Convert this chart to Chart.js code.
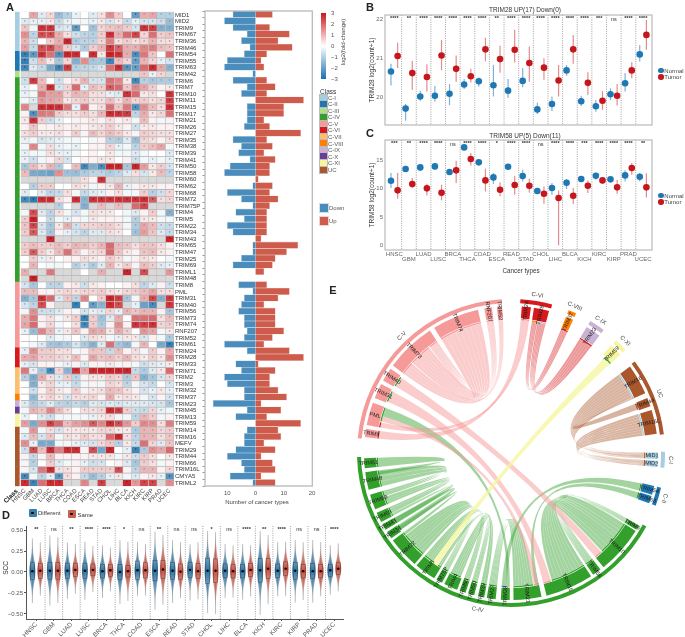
<!doctype html>
<html><head><meta charset="utf-8">
<style>
html,body{margin:0;background:#fff;overflow:hidden}
#page{position:relative;width:685px;height:637px;font-family:"Liberation Sans",Arial,sans-serif;overflow:hidden}
canvas{position:absolute}
.t{position:absolute;white-space:nowrap;transform:translate(-50%,-50%);color:#444;line-height:1}
.s{position:absolute}
</style>
<script src="https://cdn.jsdelivr.net/npm/chart.js@4"></script>
</head><body><div id="page"></div>
<script>
// ---------- data ----------
const cancerTypes = ['HNSC','GBM','LUAD','LUSC','BRCA','THCA','COAD','ESCA','READ','STAD','CHOL','LIHC','BLCA','KICH','KIRC','KIRP','PRAD','UCEC'];
const geneNames = ['MID1','MID2','TRIM9','TRIM67','TRIM36','TRIM46','TRIM54','TRIM55','TRIM63','TRIM42','TRIM6','TRIM7','TRIM10','TRIM11','TRIM15','TRIM17','TRIM21','TRIM26','TRIM27','TRIM35','TRIM38','TRIM39','TRIM41','TRIM50','TRIM58','TRIM60','TRIM62','TRIM68','TRIM72','TRIM75P','TRIM4','TRIM5','TRIM22','TRIM34','TRIM43','TRIM65','TRIM47','TRIM25','TRIM69','TRIML1','TRIM48','TRIM8','PML','TRIM31','TRIM40','TRIM56','TRIM73','TRIM74','RNF207','TRIM52','TRIM61','TRIM24','TRIM28','TRIM33','TRIM71','TRIM2','TRIM3','TRIM32','TRIM37','TRIM23','TRIM45','TRIM13','TRIM59','TRIM14','TRIM16','MEFV','TRIM29','TRIM44','TRIM66','TRIM16L','CMYA5','TRIML2'];
const classNames = ['C-I','C-II','C-III','C-IV','C-V','C-VI','C-VII','C-VIII','C-IX','C-X','C-XI','UC'];
const classColors = ['#a6cee3','#1f78b4','#b2df8a','#33a02c','#f59a99','#d7191c','#fdbf6f','#ff7f00','#cab2d6','#6a3d9a','#f6f69c','#a9572b'];
const classCounts = [6,3,1,31,10,3,4,1,1,1,2,9];
const n = null;
const foldChange = [
[0,1,-.3,.4,-1.2,-.8,-.2,0,-.3,.3,1.3,.5,0,-1.9,.9,1,-.8,-.8],
[-.3,-.2,-.2,.2,-.6,-.2,-.1,-.1,-.2,.2,-.4,.2,-.6,-.2,-.4,-.4,-.5,-1.2],
[.6,-.1,2.6,2.6,-.4,-.3,-2,0,-1.1,.4,.6,.7,.5,-.4,2.6,2.4,-1.5,-1.5],
[1.3,-.7,2.2,2.2,.9,.3,-.5,-.7,-.8,.5,2.6,.9,1.8,2.3,.4,1.7,.5,.6],
[.8,-.5,0,.5,.9,2.8,-.9,-.7,-.7,.4,1.5,.3,.5,.3,.4,.8,.3,.3],
[1.1,-.6,2.2,2.3,1.3,.5,-.4,-.9,.5,.8,2.5,1.9,.9,.9,1.4,1.5,.7,.6],
[-2.6,-2,2.6,1.7,-2.2,2.8,2.7,0,2.7,.2,2.8,2.6,.9,-2.3,1.6,.6,0,1.7],
[-2.6,-.5,.7,.2,-1,.4,-1.5,1.3,-1,-1,-2.5,.7,.4,-1.9,.8,.4,-.2,-.4],
[-2.4,-.3,-.6,-1.6,-2.5,2.5,-.8,-.7,-.6,-.4,1.7,2.7,-2.1,-1.9,1.8,2.7,1,-1.4],
[n,n,n,n,n,n,n,n,n,n,n,n,n,n,.6,-.2,.4,n],
[-.5,2.5,.7,0,-.5,.1,.3,.8,-.4,-.4,1.7,1.4,.2,-2.4,-.8,-1,-.9,-.9],
[-.2,0,.9,2.7,-.4,.4,1.8,-.2,.7,.5,2,1.8,.6,1.4,1,.5,.1,.2],
[-.2,-.1,1.6,1.1,1.1,.4,.8,.7,.3,.3,-.2,-.3,2.6,1.8,.2,.3,0,2.6],
[-.1,-.3,1.2,1,.9,.2,.4,.5,.3,.3,.7,.3,.8,.4,.5,.3,.4,2.4],
[1.4,n,2.6,2.7,2.6,1.6,-.2,1.7,.1,.3,1.7,.6,1.6,-2.2,1.3,.7,.3,2.6],
[.1,-2.2,1.6,1.5,.5,.3,.3,.5,.3,.8,2.7,2.6,2.5,-.7,.9,.2,.4,1.7],
[.2,2.6,.5,-.5,-.2,0,.1,.1,.2,.1,.3,.1,.2,-.1,.7,.1,-.1,.1],
[.1,.6,.1,.1,.2,.1,.2,.1,.2,.3,.5,.2,.1,-.5,.2,.2,.1,.1],
[.3,.5,.2,.2,.3,.1,.5,.1,.7,.4,.7,.5,.2,.1,.5,.4,.3,.3],
[-.2,-.1,-.4,-.3,-.2,-.1,-.1,0,-.1,.1,-.8,-.9,-.3,-1.2,.4,.3,.1,.3],
[-.1,1.4,-.1,.3,-.2,-.1,-.2,0,.1,.1,.4,-.2,-.1,-.7,.5,.7,1,-.1],
[-.2,-.1,-.1,.3,-.2,-.2,-.1,0,.1,0,.2,-.1,-.1,-.3,-.1,0,0,-.3],
[-.2,-.5,-.1,.1,.4,-.4,0,.1,.1,.2,.2,0,.1,-.5,-.1,-.2,-.1,-.2],
[-1,.7,.3,.8,-.9,0,.7,-2.4,-1.5,-2.3,2.8,2.8,-1,2.8,1.1,.2,.5,-.4],
[.7,-1.6,-1.7,-1.8,1.3,-1.1,-1.2,-.9,-.7,-.7,-.9,-.7,-.3,.3,-.4,.2,.7,-.7],
[n,n,n,n,n,n,n,.3,.1,2.6,n,n,n,n,n,n,n,n],
[0,-.8,.5,.5,0,0,.3,.2,-.1,.1,.2,.8,-.2,.1,.2,.2,.1,.1],
[-.3,0,-.3,-.7,-.6,.3,-.1,-.6,-.3,-.2,.1,.3,-.1,-.1,.5,-.8,-.5,.4],
[-2.4,-2.7,2.7,2.7,.3,.1,2.7,-1.4,2.6,2.6,2.6,2.6,2.6,2.6,2.7,2,.3,.4],
[n,n,n,n,-.8,0,n,-1.5,n,.7,n,.7,n,1.8,2.3,n,n,n],
[-.1,2.2,-.3,-.7,.3,-.1,-.4,-.1,.3,.2,.2,0,-.1,-.3,.1,.5,-.1,-1.5],
[.5,2.9,0,-.6,-.1,-.2,.1,-.1,.2,.1,.1,.1,-.1,-.8,.2,.2,-.1,-.1],
[.6,2.3,-.4,-1,.2,.9,-.5,.4,.4,.5,.5,.3,-.1,-.9,1,.7,-.5,-.6],
[.5,2,-.3,-1,.1,-.2,-.4,-.7,-.3,-.3,.3,.2,0,-1.1,1.1,.6,-.3,-.6],
[n,n,n,2.8,n,n,n,n,n,n,n,n,n,n,n,n,n,2.8],
[.5,.7,.5,.5,.7,.5,.8,.7,.5,.8,1.8,.7,.6,.3,.6,.6,.3,.1],
[.5,2,.5,.2,.7,1.7,.5,.1,.3,.4,1.8,.6,.2,.1,.6,.7,.2,.1],
[0,.5,-.2,.2,0,.1,.1,.3,.2,.1,.5,.3,-.1,.1,.3,.2,0,-.1],
[0,.8,0,-.1,-.1,0,-.8,-.4,-.9,-.3,.8,.2,.5,.1,.7,.5,-.3,-.2],
[.9,n,n,1.6,n,n,n,0,n,.9,n,n,2.8,n,2.2,n,n,1.2],
[n,2.9,n,n,n,n,n,n,n,n,n,n,n,n,n,n,n,n],
[-.4,-1,0,-.7,-.7,.1,.2,-.5,.2,.1,0,0,.1,.3,-.7,-.3,.1,-.5],
[.7,.7,.1,.1,.3,.4,.3,.4,.4,.5,.3,.2,.4,.5,.7,1,.3,.3],
[-1.5,-1,2.6,1.8,-.3,.6,-.7,1.4,0,.5,2.8,2.4,-1,-.1,.9,2.3,-1.5,2.5],
[-.4,-.7,2.2,.1,n,n,-2.6,0,-1.9,-1.4,2.7,2.2,n,-.2,-1.8,-2.3,n,2.5],
[-.1,1.3,-.5,-.5,-.3,.1,-.1,-.4,-.2,-.3,.4,-.2,.8,.6,.8,.8,.1,-1],
[.9,1.6,.1,.3,-.1,.2,.5,-2.6,.5,-1.1,-.3,.9,0,1.7,1.7,1.8,.3,.7],
[1,1.8,.1,.4,-.1,0,.3,-2.4,.5,-.9,.1,1.3,.1,2.6,2.4,2.6,.4,.5],
[-.2,-1.2,1.4,.7,-.2,.2,.6,.1,1,.9,.2,.9,.5,0,1.2,1,-.1,.2],
[0,0,0,-.3,-.1,-.1,0,-.3,.3,.2,-.1,-.2,.2,.2,-.4,.1,-.1,-.9],
[0,-.1,-.3,-1,-1.1,-.9,-.4,-.9,-1.4,-.3,1.7,-1,-1.3,-.1,.8,0,-1.6,-2.6],
[-.2,1.3,.5,.5,.3,.3,-.1,.1,.6,.6,-.6,.7,.1,.3,-.1,.5,.1,.9],
[.9,1,.5,.5,.4,.3,.7,.1,1,.6,.7,.5,.8,.3,.2,.5,.2,1.3],
[-.2,-.4,.1,.1,-.1,-.2,.1,-.3,.1,.1,.2,.1,.1,-.1,-.5,-.3,-.2,.2],
[1.6,-.2,-1,-2.4,.4,-1.4,2.6,1,2.7,2.8,2.8,2.8,2.8,-.6,-.9,-.3,.2,1.8],
[-.8,-1.6,.9,.3,-.3,.5,-.7,.1,.2,.2,.5,.4,-.9,.6,-1.5,-1,-.4,.4],
[0,-1.5,.2,.4,-.2,-.2,-.6,-.1,.1,-.1,.4,.3,-.7,-.1,-.4,-.6,0,-.4],
[0,-.5,.1,.5,.2,.1,.5,.1,.2,.3,.7,.6,.3,.1,-.4,-.2,.2,-.2],
[0,-1.3,.2,.4,.2,-.4,.3,.3,.4,.1,.9,.2,.3,.2,-.1,-.4,.1,-.4],
[-.3,-.9,-.6,-.3,-.7,-.8,-.6,-.8,-.3,-.4,-.3,-.4,-.3,-.3,-.3,-.4,-.4,-1],
[-.1,.8,.6,1.4,.7,.3,0,.3,.3,.4,2.7,2.4,.5,-.5,-.6,.4,-.2,-.1],
[-.2,0,-.3,-.5,-.1,-.1,-.1,-.1,-.2,.2,.3,-.1,-.1,-.7,.8,.5,-.1,.1],
[1.1,-1.6,1.3,2.4,1.8,.7,1.1,1.3,2,1.4,2.7,2.2,1.2,.5,1.4,1.3,.3,1.5],
[-.1,1.2,-.1,.3,-.4,.2,.2,.2,.2,.4,.4,.2,.2,-.9,.8,.8,.4,.5],
[-.3,.7,-.4,.6,-.1,.3,.2,.5,.3,.3,1.8,2.8,.3,-.7,.8,.8,.3,.6],
[1.3,-.2,-1.6,-1.6,-.1,-.1,-.2,-.3,-.4,.4,.6,-.8,.2,-.6,1.7,.4,-.3,.6],
[-.5,2.2,.7,2.7,1.5,2.7,2.7,.1,2.2,-1.7,2.8,0,-.2,-2.5,-.9,1.3,1,1.8],
[.1,-.6,.1,.7,.1,.1,.1,.1,.2,.2,.2,-.1,.2,-.5,.5,.3,0,.2],
[-.1,-.8,0,.5,-.3,-.1,.1,-.2,-.5,-.4,0,.1,-.3,-1,.5,.3,-.1,.1],
[.1,-.4,1.6,2.7,.3,.3,.1,.5,.5,.5,.5,2.2,.1,-.7,.8,.8,.1,.4],
[-2.4,-.1,-.7,-.2,-2.1,.3,.1,-.6,-1.2,-.8,-.2,.2,-.1,-.3,.1,.2,-.2,-2.2],
[2.7,-2.5,1.7,2.7,2.7,n,n,1.4,n,2.4,n,n,2.8,1.2,2.3,2.3,n,1.3]
];
const downCounts = [8,11,8,3,5,2,4,10,11,1,8,3,5,0,3,3,3,4,0,8,5,6,2,9,11,0,1,10,5,1,7,4,10,8,0,1,1,5,8,0,0,6,1,4,5,6,4,4,3,4,11,3,0,7,5,11,10,4,4,15,3,7,0,3,4,4,7,10,5,4,9,1];
const upCounts = [6,0,5,12,8,13,4,2,3,0,4,7,4,17,10,10,3,5,16,4,6,3,7,5,5,1,6,5,8,5,4,4,4,4,2,15,11,7,6,3,0,4,12,8,3,7,7,7,10,6,3,12,17,1,7,5,5,8,11,2,9,4,16,8,9,3,7,2,6,7,2,7];

const b_normal = [20.65,19.70,20.01,20.03,20.08,20.32,20.40,20.30,20.16,20.41,19.68,19.82,20.68,19.89,19.76,20.07,20.35,21.09];
const b_normalLow = [20.29,19.39,19.90,19.88,19.79,20.20,20.26,20.01,19.97,20.25,19.56,19.64,20.54,19.77,19.62,19.92,20.14,20.91];
const b_normalHigh = [20.85,19.82,20.16,20.28,20.33,20.46,20.50,20.82,20.46,20.74,19.85,20.01,20.82,20.03,19.92,20.22,20.61,21.33];
const b_tumor = [21.05,20.61,20.51,21.06,20.72,20.53,21.22,20.97,21.21,20.87,20.75,20.42,21.22,20.36,19.90,20.03,20.68,21.59];
const b_tumorLow = [20.74,20.18,20.14,20.68,20.39,20.37,20.91,20.62,20.88,20.39,20.44,20.01,20.85,20.05,19.67,19.78,20.48,21.21];
const b_tumorHigh = [21.39,20.92,20.84,21.46,21.06,20.72,21.52,21.31,21.72,21.29,20.99,20.82,21.59,20.63,20.15,20.33,20.89,21.97];
const b_sig = ['****','**','****','****','****','****','****','**','****','****','****','****','****','****','***','ns','****','****'];

const c_normal = [11.41,13.47,13.76,13.94,12.94,17.29,14.65,12.0,13.88,12.24,9.59,10.12,11.06,11.71,12.29,11.65,12.35,12.12];
const c_normalLow = [10.12,13.18,13.18,13.35,12.47,16.94,14.24,10.82,13.41,11.29,9.06,8.94,9.94,11.29,11.59,11.18,11.29,11.29];
const c_normalHigh = [12.76,13.76,14.35,14.53,13.35,17.65,15.12,12.76,14.24,13.35,10.0,11.0,11.71,12.06,12.76,12.06,13.24,12.76];
const c_tumor = [9.71,10.82,10.06,9.29,13.24,15.24,11.47,9.82,10.65,10.53,9.12,8.35,8.76,10.53,11.47,10.24,13.65,10.24];
const c_tumorLow = [8.24,10.12,8.82,7.94,11.0,14.12,9.53,8.65,8.94,9.35,7.35,0,7.29,9.24,10.82,9.12,12.47,8.47];
const c_tumorHigh = [12.76,11.88,10.88,10.71,14.94,16.29,13.53,11.12,12.29,11.76,10.41,9.65,10.12,11.47,12,11.59,14.53,12.71];
const c_sig = ['***','**','****','****','ns','****','****','*','****','****','ns','****','****','***','****','****','****','**'];

const d_sig = ['**','ns','**','****','****','*','ns','**','ns','ns','*','ns','****','**','****','ns','ns','****'];
const d_diffMed = [.01,.015,.015,.015,.01,.0,.02,.015,.015,.025,.015,.015,.01,.02,.015,.015,.01,.02];
const d_sameMed = [.015,.015,.025,.025,.02,.01,.02,.03,.005,.01,.015,.01,.025,.04,.04,.01,.01,.04];
const d_diffMin = [-.37,-.40,-.32,-.33,-.31,-.38,-.29,-.45,-.37,-.34,-.49,-.31,-.33,-.51,-.29,-.365,-.365,-.27];
const d_diffMax = [.40,.435,.35,.36,.32,.38,.36,.48,.38,.33,.49,.335,.335,.49,.355,.38,.38,.32];
const d_sameMin = [-.28,-.37,-.26,-.24,-.23,-.345,-.28,-.39,-.31,-.325,-.50,-.305,-.29,-.385,-.29,-.335,-.29,-.23];
const d_sameMax = [.35,.415,.335,.31,.29,.36,.335,.44,.355,.355,.475,.315,.32,.44,.36,.355,.355,.34];
const d_diffBox = [.1,.1,.09,.09,.08,.09,.11,.12,.1,.09,.15,.08,.08,.14,.08,.1,.09,.07];
const d_sameBox = [.09,.1,.08,.07,.07,.07,.09,.11,.09,.09,.14,.08,.08,.12,.08,.08,.08,.07];

// chord: gene, class, start and end degree clockwise from the top
const chordGenes = [
['TRIM24',5,4.2,7.8],['TRIM28',5,9,15],['TRIM37',7,22,25],['TRIM23',8,31,37],['TRIM59',10,43,48],
['TRIM16',11,54,66],['TRIM44',11,68,71.5],['TRIM16L',11,73,82.5],['MID1',0,89.8,92.3],['MID2',0,93,95.5],
['TRIM54',1,103,106.5],['TRIM63',1,107,110],
['TRIM6',3,119.5,121.5],['TRIM10',3,122,141],['TRIM58',3,142.5,146],['TRIM15',3,147,166],['TRIM21',3,168,179],
['TRIM38',3,180.5,184],['TRIM27',3,186,189.5],['TRIM39',3,190.5,193],['TRIM50',3,194.5,197],['TRIM60',3,198,200.5],
['TRIM4',3,201.5,207],['TRIM75P',3,208,210.5],['TRIM5',3,211.5,220],['TRIM22',3,221,233.5],['TRIM34',3,234.5,237.5],
['TRIM43',3,238.5,241],['TRIM69',3,242,246],['TRIM68',3,247.5,253.5],['TRIM48',3,255.5,262.5],['TRIM51',3,264,268],
['TRIM8',4,276.2,279.5],['PML',4,281,290],['TRIM31',4,292,298],['TRIM40',4,299.5,305],['TRIM73',4,306.5,326.5],
['TRIM74',4,328.5,347],['RNF207',4,349.5,352.5],['TRIM52',4,354.5,356.5]];
const chordGroups = [['C-VI',5,3.5,15.5],['C-VIII',7,22,25],['C-IX',8,31,37],['C-XI',10,43,48],['UC',11,53.5,83],['C-I',0,89.5,95.5],['C-II',1,103,110],['C-IV',3,118.5,268.5],['C-V',4,275.5,356.5]];
// from, to, strands, from-part start/end, to-part start/end
const chordLinks = [
['TRIM51','TRIM48',1,0,1,.75,1],['TRIM48','TRIM68',3,0,.95,.6,1],['TRIM68','TRIM69',3,0,.55,.3,1],['TRIM69','TRIM43',2,0,.28,0,1],
['TRIM43','TRIM34',1,0,.9,.2,1],['TRIM34','TRIM22',1,.2,.8,.9,1],['TRIM22','TRIM75P',7,0,.88,0,1],['TRIM5','TRIM60',5,.5,1,0,1],
['TRIM4','TRIM50',5,.1,.95,0,1],['TRIM21','TRIM27',7,.22,1,0,1],['TRIM5','TRIM39',2,0,.18,0,1],['TRIM38','TRIM54',1,.4,1,.05,.95],['TRIM21','TRIM63',1,.01,.15,.05,.95],
['TRIM15','TRIM6',9,0,.8,0,1],['TRIM10','TRIM58',9,0,.8,0,1],['TRIM38','PML',1,0,.4,.55,.98],
['TRIM73','RNF207',7,.3,.78,0,1],['TRIM73','TRIM52',4,0,.28,0,1],['TRIM74','TRIM73',8,0,1,.8,1],
['TRIM8','TRIM24',1,0,1,0,.55],['PML','TRIM24',1,0,.25,.55,1],['PML','TRIM21',1,.3,.55,0,.2],['TRIM31','TRIM15',1,.1,.9,.82,1],['TRIM40','TRIM10',1,.1,.9,.82,1],
['TRIM28','TRIM37',4,0,.4,0,1],['TRIM28','TRIM23',5,.42,1,0,1],['TRIM59','TRIM5',1,.3,1,.2,.5],
['TRIM16','MID1',9,0,.95,0,1],['TRIM16L','MID2',8,0,1,0,1],['TRIM44','TRIM16',1,.1,.9,.96,1]];

// ---------- helpers ----------
const page = document.getElementById('page');
const FONT = '"Liberation Sans",Arial,sans-serif';
Chart.defaults.font.family = FONT;
Chart.defaults.animation = false;
Chart.defaults.responsive = false;
Chart.defaults.devicePixelRatio = 1;
Chart.defaults.plugins.legend.display = false;
Chart.defaults.plugins.tooltip.enabled = false;
function cv(l,t,w,h){const c=document.createElement('canvas');c.width=w;c.height=h;c.style.left=l+'px';c.style.top=t+'px';c.style.width=w+'px';c.style.height=h+'px';page.appendChild(c);return c;}
function txt(x,y,s,size,opt={}){const d=document.createElement('div');d.className='t';d.textContent=s;d.style.left=x+'px';d.style.top=y+'px';d.style.fontSize=size+'px';
 if(opt.color)d.style.color=opt.color;if(opt.bold)d.style.fontWeight='bold';
 if(opt.left)d.style.transform='translate(0,-50%)';if(opt.rot)d.style.transform='translate(-50%,-50%) rotate('+opt.rot+'deg)';page.appendChild(d);}
function box(x,y,w,h,bg,extra=''){const d=document.createElement('div');d.className='s';d.style.cssText+=`left:${x}px;top:${y}px;width:${w}px;height:${h}px;background:${bg};${extra}`;page.appendChild(d);return d;}
const fit = size => s => { if(s.isHorizontal()) s.height=size; else s.width=size; s.paddingLeft=s.paddingRight=s.paddingTop=s.paddingBottom=0; };
const noGrid = {display:false,drawTicks:false};
const framePlugin = {id:'frame',afterDatasetsDraw(c,a,o){ if(!o.color) return; const {left,top,width,height}=c.chartArea;const x=c.ctx;x.save();x.strokeStyle=o.color;x.lineWidth=o.width||1.2;x.strokeRect(left,top,width,height);x.restore();}};
Chart.register(framePlugin);
function heatColor(v){ if(v===null) return '#d9d9d9';
 const t=Math.pow(Math.min(Math.abs(v)/3,1),.85); const end=v>0?[200,24,30]:[28,112,172];
 const mix=end.map(e=>Math.round(255+(e-255)*t)); return `rgb(${mix})`; }
const classOfRow = classCounts.flatMap((k,i)=>Array(k).fill(i));

// ---------- A heat map ----------
const starPlugin={id:'stars',afterDatasetsDraw(c){const x=c.ctx,sx=c.scales.x,sy=c.scales.y;x.save();x.font='4.5px '+FONT;x.textAlign='center';x.textBaseline='middle';
 foldChange.forEach((row,i)=>row.forEach((v,j)=>{if(v===null||Math.abs(v)<.15)return;x.fillStyle=Math.abs(v)>1.8?'#333':'#888';x.fillText('*',sx.getPixelForValue(j+.5),sy.getPixelForValue(i)+1);}));x.restore();}};
const heatSets=[{label:'Class',data:geneNames.map((g,i)=>({x:[-.669,-.164],y:g})),backgroundColor:classOfRow.map(k=>classColors[k]),borderWidth:0,barPercentage:1,categoryPercentage:1,grouped:false}];
cancerTypes.forEach((t,j)=>heatSets.push({label:t,data:geneNames.map((g)=>({x:[j,j+1],y:g})),backgroundColor:foldChange.map(r=>heatColor(r[j])),borderColor:'#b4b4b4',borderWidth:.7,barPercentage:1,categoryPercentage:1,grouped:false}));
const heatLabels=['Class',...cancerTypes];
new Chart(cv(0,0,205,512),{type:'bar',data:{labels:geneNames,datasets:heatSets},plugins:[starPlugin],options:{indexAxis:'y',layout:{padding:{left:15,top:11.7,right:0,bottom:0}},
 scales:{x:{type:'linear',min:-.669,max:18,afterFit:fit(25.7),afterBuildTicks(s){s.ticks=[{value:-.42},...cancerTypes.map((t,j)=>({value:j+.5}))];},grid:noGrid,border:{display:false},
   ticks:{autoSkip:false,maxRotation:45,minRotation:45,padding:1,color:c=>c.index===0?'#111':'#444',font:c=>({size:c.index===0?6.5:6,weight:c.index===0?'bold':'normal'}),callback:(v,i)=>heatLabels[i]}},
  y:{position:'right',afterFit:fit(31),grid:noGrid,border:{display:false},ticks:{autoSkip:false,padding:1,color:'#333',font:{size:6}}}}}});

// ---------- A bars ----------
new Chart(cv(190,0,135,512),{type:'bar',data:{labels:geneNames,datasets:[
 {label:'Down',data:downCounts.map(v=>-v),backgroundColor:'#4a8dbd',borderColor:'#cfe0ec',borderWidth:.6,barPercentage:1,categoryPercentage:1},
 {label:'Up',data:upCounts,backgroundColor:'#cd5c4c',borderColor:'#f1d2cc',borderWidth:.6,barPercentage:1,categoryPercentage:1}]},
 options:{indexAxis:'y',layout:{padding:{left:0,top:11,right:12.7,bottom:0}},plugins:{frame:{color:'#b9b9b9',width:1.3}},
 scales:{x:{type:'linear',stacked:true,min:-17.85,max:20.07,afterFit:fit(26),afterBuildTicks(s){s.ticks=[-10,0,10,20].map(value=>({value}));},grid:noGrid,border:{display:false},ticks:{padding:4,color:'#555',font:{size:6},callback:v=>Math.abs(v)}},
  y:{stacked:true,afterFit:fit(15),grid:{drawOnChartArea:false,tickLength:2.5,color:'#999'},border:{display:false},ticks:{autoSkip:false,display:false}}}}});
txt(257,502,'Number of cancer types',6,{color:'#444'});

// colour bar + legends for A
box(321,13,5,66,'linear-gradient(to bottom,#c8181e,#f2b0b1 33%,#fff 50%,#afd0e6 67%,#1c70ac)');
['3','2','1','0','−1','−2','−3'].forEach((s,i)=>txt(331,12.5+i*11,s,6,{color:'#555',left:true}));
txt(343,42,'log2(fold-change)',6,{rot:-90,color:'#444'});
txt(320,91.5,'Class',6.5,{left:true,color:'#333'});
classNames.forEach((s,i)=>{box(320,94.5+i*6.55,7,6.4,classColors[i],'outline:.5px solid #bbb;outline-offset:-.5px');txt(328,97.7+i*6.55,s,6,{left:true,color:'#555'});});
box(320,203.5,8,8,'#4a8dbd','outline:.6px solid #cfe0ec');txt(329,207.5,'Down',6,{left:true,color:'#555'});
box(320,216.5,8,8,'#cd5c4c','outline:.6px solid #f1d2cc');txt(329,220.5,'Up',6,{left:true,color:'#555'});

// ---------- B & C ----------
const BLUE='#1f78b4',RED='#c4161c';
function errPlugin(nl,nh,tl,th,sig){return {id:'err',beforeDatasetsDraw(c){const x=c.ctx,sx=c.scales.x,sy=c.scales.y,a=c.chartArea;x.save();
  x.setLineDash([1,1.3]);x.strokeStyle='#777';x.lineWidth=.7;
  for(let i=1;i<18;i++){const p=sx.getPixelForValue(i+.5);x.beginPath();x.moveTo(p,a.top);x.lineTo(p,a.bottom);x.stroke();}
  x.setLineDash([]);x.lineWidth=1.2;
  cancerTypes.forEach((t,i)=>{[[nl,nh,-.227,'#7fb2d6'],[tl,th,.227,'#e48c8d']].forEach(([l,h,o,col])=>{const p=sx.getPixelForValue(i+1+o);x.strokeStyle=col;x.beginPath();x.moveTo(p,sy.getPixelForValue(l[i]));x.lineTo(p,sy.getPixelForValue(h[i]));x.stroke();});});
  x.fillStyle='#333';x.textAlign='center';x.textBaseline='middle';
  sig.forEach((s,i)=>{x.font=(s==='ns'?'5.5px ':'bold 5.5px ')+FONT;x.fillText(s,sx.getPixelForValue(i+1),a.top+(s==='ns'?4:3.5));});
  x.restore();}};}
function dotChart(top,h,bottomPad,ymin,ymax,yt,mN,mT,nl,nh,tl,th,sig,labels){
 new Chart(cv(355,top,330,h),{type:'scatter',data:{datasets:[
  {label:'Normal',data:mN.map((v,i)=>({x:i+1-.227,y:v})),backgroundColor:BLUE,pointRadius:3.3,borderWidth:0},
  {label:'Tumor',data:mT.map((v,i)=>({x:i+1+.227,y:v})),backgroundColor:RED,pointRadius:3.3,borderWidth:0}]},
  plugins:[errPlugin(nl,nh,tl,th,sig)],
  options:{layout:{padding:{left:0,right:33,top:15,bottom:0}},plugins:{frame:{color:'#b9b9b9',width:1.2}},
  scales:{x:{type:'linear',min:.364,max:18.61,afterFit:fit(bottomPad),afterBuildTicks(s){s.ticks=cancerTypes.map((t,i)=>({value:i+1}));},grid:noGrid,border:{display:false},
     ticks:{display:!!labels,autoSkip:false,maxRotation:0,padding:2,color:'#666',font:{size:6,lineHeight:.85},callback:(v,i)=>labels?labels[i]:''}},
   y:{min:ymin,max:ymax,afterFit:fit(30),afterBuildTicks(s){s.ticks=yt.map(value=>({value}));},grid:noGrid,border:{display:false},ticks:{padding:2,color:'#666',font:{size:6}}}}}});
}
dotChart(0,135,10,19.28,22.1,[20,21,22],b_normal,b_tumor,b_normalLow,b_normalHigh,b_tumorLow,b_tumorHigh,b_sig,null);
dotChart(125,155,30,-.82,18.6,[0,5,10,15],c_normal,c_tumor,c_normalLow,c_normalHigh,c_tumorLow,c_tumorHigh,c_sig,cancerTypes.map((t,i)=>i%2?['',t]:[t]));
txt(525,10.3,'TRIM28 UP(17) Down(0)',6.5,{color:'#333'});
txt(525,135.5,'TRIM58 UP(5) Down(11)',6.5,{color:'#333'});
txt(372,70,'TRIM28 log2(count+1)',6.5,{rot:-90,color:'#333'});
txt(372,195,'TRIM58 log2(count+1)',6.5,{rot:-90,color:'#333'});
txt(521,271,'Cancer types',6.3,{color:'#333'});
[[70.5,77],[195.5,202]].forEach(([a,b])=>{
 box(658,a-2.8,5.6,5.6,BLUE,'border-radius:50%');txt(664.3,a,'Normal',6,{left:true,color:'#444'});
 box(658,b-2.8,5.6,5.6,RED,'border-radius:50%');txt(664.3,b,'Tumor',6,{left:true,color:'#444'});});

// ---------- D violins ----------
const violinPlugin={id:'violin',beforeDatasetsDraw(c){const x=c.ctx,sx=c.scales.x,sy=c.scales.y,a=c.chartArea;x.save();
 x.setLineDash([1,1.3]);x.strokeStyle='#777';x.lineWidth=.7;
 for(let i=1;i<18;i++){const p=sx.getPixelForValue(i+.5);x.beginPath();x.moveTo(p,a.top);x.lineTo(p,a.bottom);x.stroke();}
 x.setLineDash([]);
 const draw=(i,off,rgb,med,lo,hi,bx)=>{const cx=sx.getPixelForValue(i+1+off),yT=sy.getPixelForValue(hi),yB=sy.getPixelForValue(lo),yM=sy.getPixelForValue(med);
  const g=x.createLinearGradient(0,yT,0,yB);const f=(yM-yT)/(yB-yT);
  g.addColorStop(0,`rgba(${rgb},.02)`);g.addColorStop(Math.max(f-.24,.02),`rgba(${rgb},.55)`);g.addColorStop(f,`rgba(${rgb},.95)`);g.addColorStop(Math.min(f+.24,.98),`rgba(${rgb},.55)`);g.addColorStop(1,`rgba(${rgb},.02)`);
  const sd=(yB-yT)/5.6,W=3;x.fillStyle=g;x.beginPath();
  for(let y=yT;y<=yB;y+=1){const w=W*Math.exp(-((y-yM)**2)/(2*sd*sd));x.lineTo(cx+w,y);}
  for(let y=yB;y>=yT;y-=1){const w=W*Math.exp(-((y-yM)**2)/(2*sd*sd));x.lineTo(cx-w,y);}
  x.closePath();x.fill();
  x.strokeStyle='rgba(70,70,70,.5)';x.lineWidth=.7;x.beginPath();x.moveTo(cx,yT);x.lineTo(cx,sy.getPixelForValue(med+bx));x.moveTo(cx,sy.getPixelForValue(med-bx));x.lineTo(cx,yB);x.stroke();
  x.strokeStyle='rgba(40,40,40,.7)';x.lineWidth=.5;x.strokeRect(cx-2,sy.getPixelForValue(med+bx),4,sy.getPixelForValue(med-bx)-sy.getPixelForValue(med+bx));};
 cancerTypes.forEach((t,i)=>{draw(i,-.227,'36,110,160',d_diffMed[i],d_diffMin[i],d_diffMax[i],d_diffBox[i]);draw(i,.227,'200,72,56',d_sameMed[i],d_sameMin[i],d_sameMax[i],d_sameBox[i]);});
 x.fillStyle='#333';x.textAlign='center';x.textBaseline='middle';
 d_sig.forEach((s,i)=>{x.font=(s==='ns'?'5.5px ':'bold 5.5px ')+FONT;x.fillText(s,sx.getPixelForValue(i+1),a.top+3);});
 x.restore();}};
new Chart(cv(0,505,350,132),{type:'scatter',data:{datasets:[
 {label:'Different',data:d_diffMed.map((v,i)=>({x:i+1-.227,y:v})),backgroundColor:'#000',pointRadius:1.2,borderWidth:0},
 {label:'Same',data:d_sameMed.map((v,i)=>({x:i+1+.227,y:v})),backgroundColor:'#000',pointRadius:1.2,borderWidth:0}]},plugins:[violinPlugin],
 options:{layout:{padding:{left:0,right:7,top:21,bottom:0}},
 scales:{x:{type:'linear',min:.41,max:18.5,afterFit:fit(18),afterBuildTicks(s){s.ticks=cancerTypes.map((t,i)=>({value:i+1}));},grid:{drawOnChartArea:false,tickLength:2,color:'#555'},border:{color:'#555',width:1},
   ticks:{autoSkip:false,maxRotation:45,minRotation:45,padding:0,color:'#555',font:{size:6.3},callback:(v,i)=>cancerTypes[i]}},
  y:{min:-.56,max:.548,afterFit:fit(26),afterBuildTicks(s){s.ticks=[-.5,-.25,0,.25,.5].map(value=>({value}));},grid:{drawOnChartArea:false,tickLength:2,color:'#555'},border:{color:'#555',width:1},ticks:{padding:1,color:'#555',font:{size:6},callback:v=>v.toFixed(2).replace('-','−')}}}}});
txt(6,568,'SCC',6.5,{rot:-90,color:'#333'});
box(28.5,509,8,8,'#3a7fae','border-radius:1px');box(31.3,511.8,2.4,2.4,'#000','border-radius:50%');txt(38,513,'Different',6,{left:true,color:'#333'});
box(67.5,510,8,8,'#c8604f','border-radius:1px');box(70.3,512.8,2.4,2.4,'#000','border-radius:50%');txt(77.5,514.5,'Same',6,{left:true,color:'#333'});

// ---------- E chord ----------
function ringSegments(rows){const data=[],colors=[];let at=0;rows.forEach(r=>{data.push(r[2]-at,r[3]-r[2]);colors.push('rgba(0,0,0,0)',classColors[r[1]]);at=r[3];});data.push(360-at);colors.push('rgba(0,0,0,0)');return {data,backgroundColor:colors};}
const geneIndex=Object.fromEntries(chordGenes.map((g,i)=>[g[0],i]));
const chordPlugin={id:'chord',afterDatasetsDraw(c){const x=c.ctx,arcs=c.getDatasetMeta(2).data,cx=arcs[0].x,cy=arcs[0].y,R=133;x.save();
 const span=(name,f0,f1)=>{const e=arcs[2*geneIndex[name]+1];const w=e.endAngle-e.startAngle;return [e.startAngle+w*f0,e.startAngle+w*f1];};
 const hex=h=>[1,3,5].map(i=>parseInt(h.slice(i,i+2),16)).join(',');
 chordLinks.forEach(([a,b,k,f0,f1,t0,t1])=>{const ca=chordGenes[geneIndex[a]][1],cb=chordGenes[geneIndex[b]][1];
  const [s0,s1]=span(a,f0,f1),[e0,e1]=span(b,t0,t1);
  x.fillStyle=`rgba(${hex(classColors[ca])},${ca===4?.5:ca===10?.75:.45})`;x.strokeStyle='rgba(255,255,255,.3)';x.lineWidth=.3;
  for(let i=0;i<k;i++){const a0=s0+(s1-s0)*i/k,a1=s0+(s1-s0)*(i+1)/k,b0=e0+(e1-e0)*i/k,b1=e0+(e1-e0)*(i+1)/k;
   x.beginPath();x.moveTo(cx+R*Math.cos(a0),cy+R*Math.sin(a0));x.arc(cx,cy,R,a0,a1);x.quadraticCurveTo(cx,cy,cx+R*Math.cos(b0),cy+R*Math.sin(b0));x.arc(cx,cy,R,b0,b1);x.quadraticCurveTo(cx,cy,cx+R*Math.cos(a0),cy+R*Math.sin(a0));x.closePath();x.fill();if(k>1)x.stroke();}
  x.lineWidth=1.3;
  x.strokeStyle=classColors[cb];x.beginPath();x.arc(cx,cy,R+.8,s0,s1);x.stroke();
  x.strokeStyle=classColors[ca];x.beginPath();x.arc(cx,cy,R+.8,e0,e1);x.stroke();});
 x.textAlign='center';x.textBaseline='middle';
 const label=(s,deg,r,rot,font,col)=>{const t=(deg-90)*Math.PI/180;x.save();x.translate(cx+r*Math.cos(t),cy+r*Math.sin(t));x.rotate(rot*Math.PI/180);x.font=font;x.fillStyle=col;x.fillText(s,0,0);x.restore();};
 chordGenes.forEach(g=>{const m=(g[2]+g[3])/2;const rot=m<180?m-90:m+90;label(g[0],m,g[0].length>5&&g[3]-g[2]<5?143:141,rot,'5.5px '+FONT,'#1a1a1a');});
 chordGroups.forEach(g=>{const m=(g[2]+g[3])/2;const rot=(m>110&&m<270)?m-180:(m>=270?m:m);label(g[0],g[0]==='C-V'?317:g[0]==='C-IV'?192:m,160,g[0]==='C-IV'?12:g[0]==='C-V'?-43:rot,'6px '+FONT,'#444');});
 x.restore();}};
new Chart(cv(341,283,340,340),{type:'doughnut',data:{labels:[],datasets:[
 {...ringSegments(chordGroups),borderWidth:0,weight:4},
 {data:[1],backgroundColor:['rgba(0,0,0,0)'],borderWidth:0,weight:3},
 {...ringSegments(chordGenes),borderWidth:0,weight:12}]},plugins:[chordPlugin],
 options:{radius:154,cutout:'87.66%',rotation:0,circumference:360,layout:{padding:0}}});

// panel letters
[['A',10,7],['B',370,7],['C',370,133],['D',6,515],['E',333,290]].forEach(([s,x,y])=>txt(x,y,s,11,{bold:true,color:'#222'}));
</script></body></html>
